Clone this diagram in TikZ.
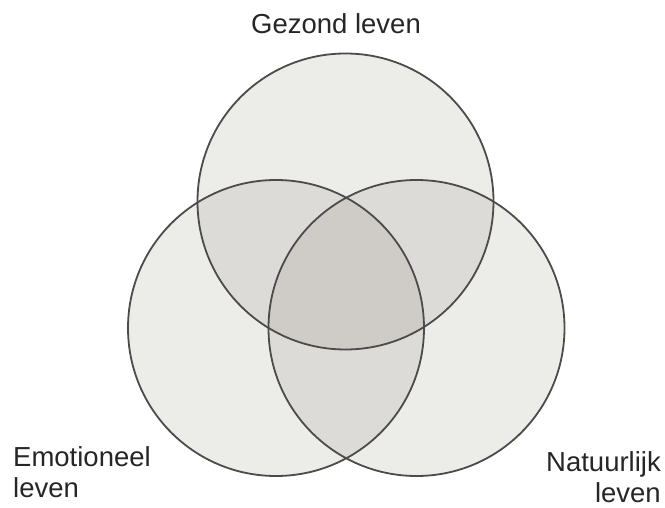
\documentclass[tikz,border=0pt]{standalone}
\usepackage{fontspec}
\setmainfont{Liberation Sans}
\definecolor{venbase}{RGB}{236,236,232}
\definecolor{venpair}{RGB}{221,219,215}
\definecolor{ventrio}{RGB}{207,204,199}
\definecolor{venline}{RGB}{75,75,75}
\tikzset{
    rand/.style={draw=venline, line width=1.8pt},
    label/.style={inner sep=0pt, font=\fontsize{27.5}{31}\selectfont, text=black!85}
}
\begin{document}
\begin{tikzpicture}[x=1pt, y=-1pt]
        \useasboundingbox (0,0) rectangle (665,508);
        \coordinate (G) at (345.5,201.5);
        \coordinate (E) at (276,328);
        \coordinate (N) at (416.5,328);
        \fill[venbase] (G) circle (148);
        \fill[venbase] (E) circle (148);
        \fill[venbase] (N) circle (148);
        \begin{scope}
            \clip (G) circle (148);
            \fill[venpair] (E) circle (148);
            \fill[venpair] (N) circle (148);
        \end{scope}
        \begin{scope}
            \clip (E) circle (148);
            \fill[venpair] (N) circle (148);
            \clip (N) circle (148);
            \fill[ventrio] (G) circle (148);
        \end{scope}
        \draw[rand] (G) circle (148);
        \draw[rand] (E) circle (148);
        \draw[rand] (N) circle (148);
        \node[label, anchor=base] (gezond) at (336,34) {Gezond leven};
        \node[label, anchor=base west, align=left] (emotie) at (13,497) {Emotioneel\\leven};
        \node[label, anchor=base east, align=right] (natuur) at (661,502) {Natuurlijk\\leven};
    \end{tikzpicture}
\end{document}
